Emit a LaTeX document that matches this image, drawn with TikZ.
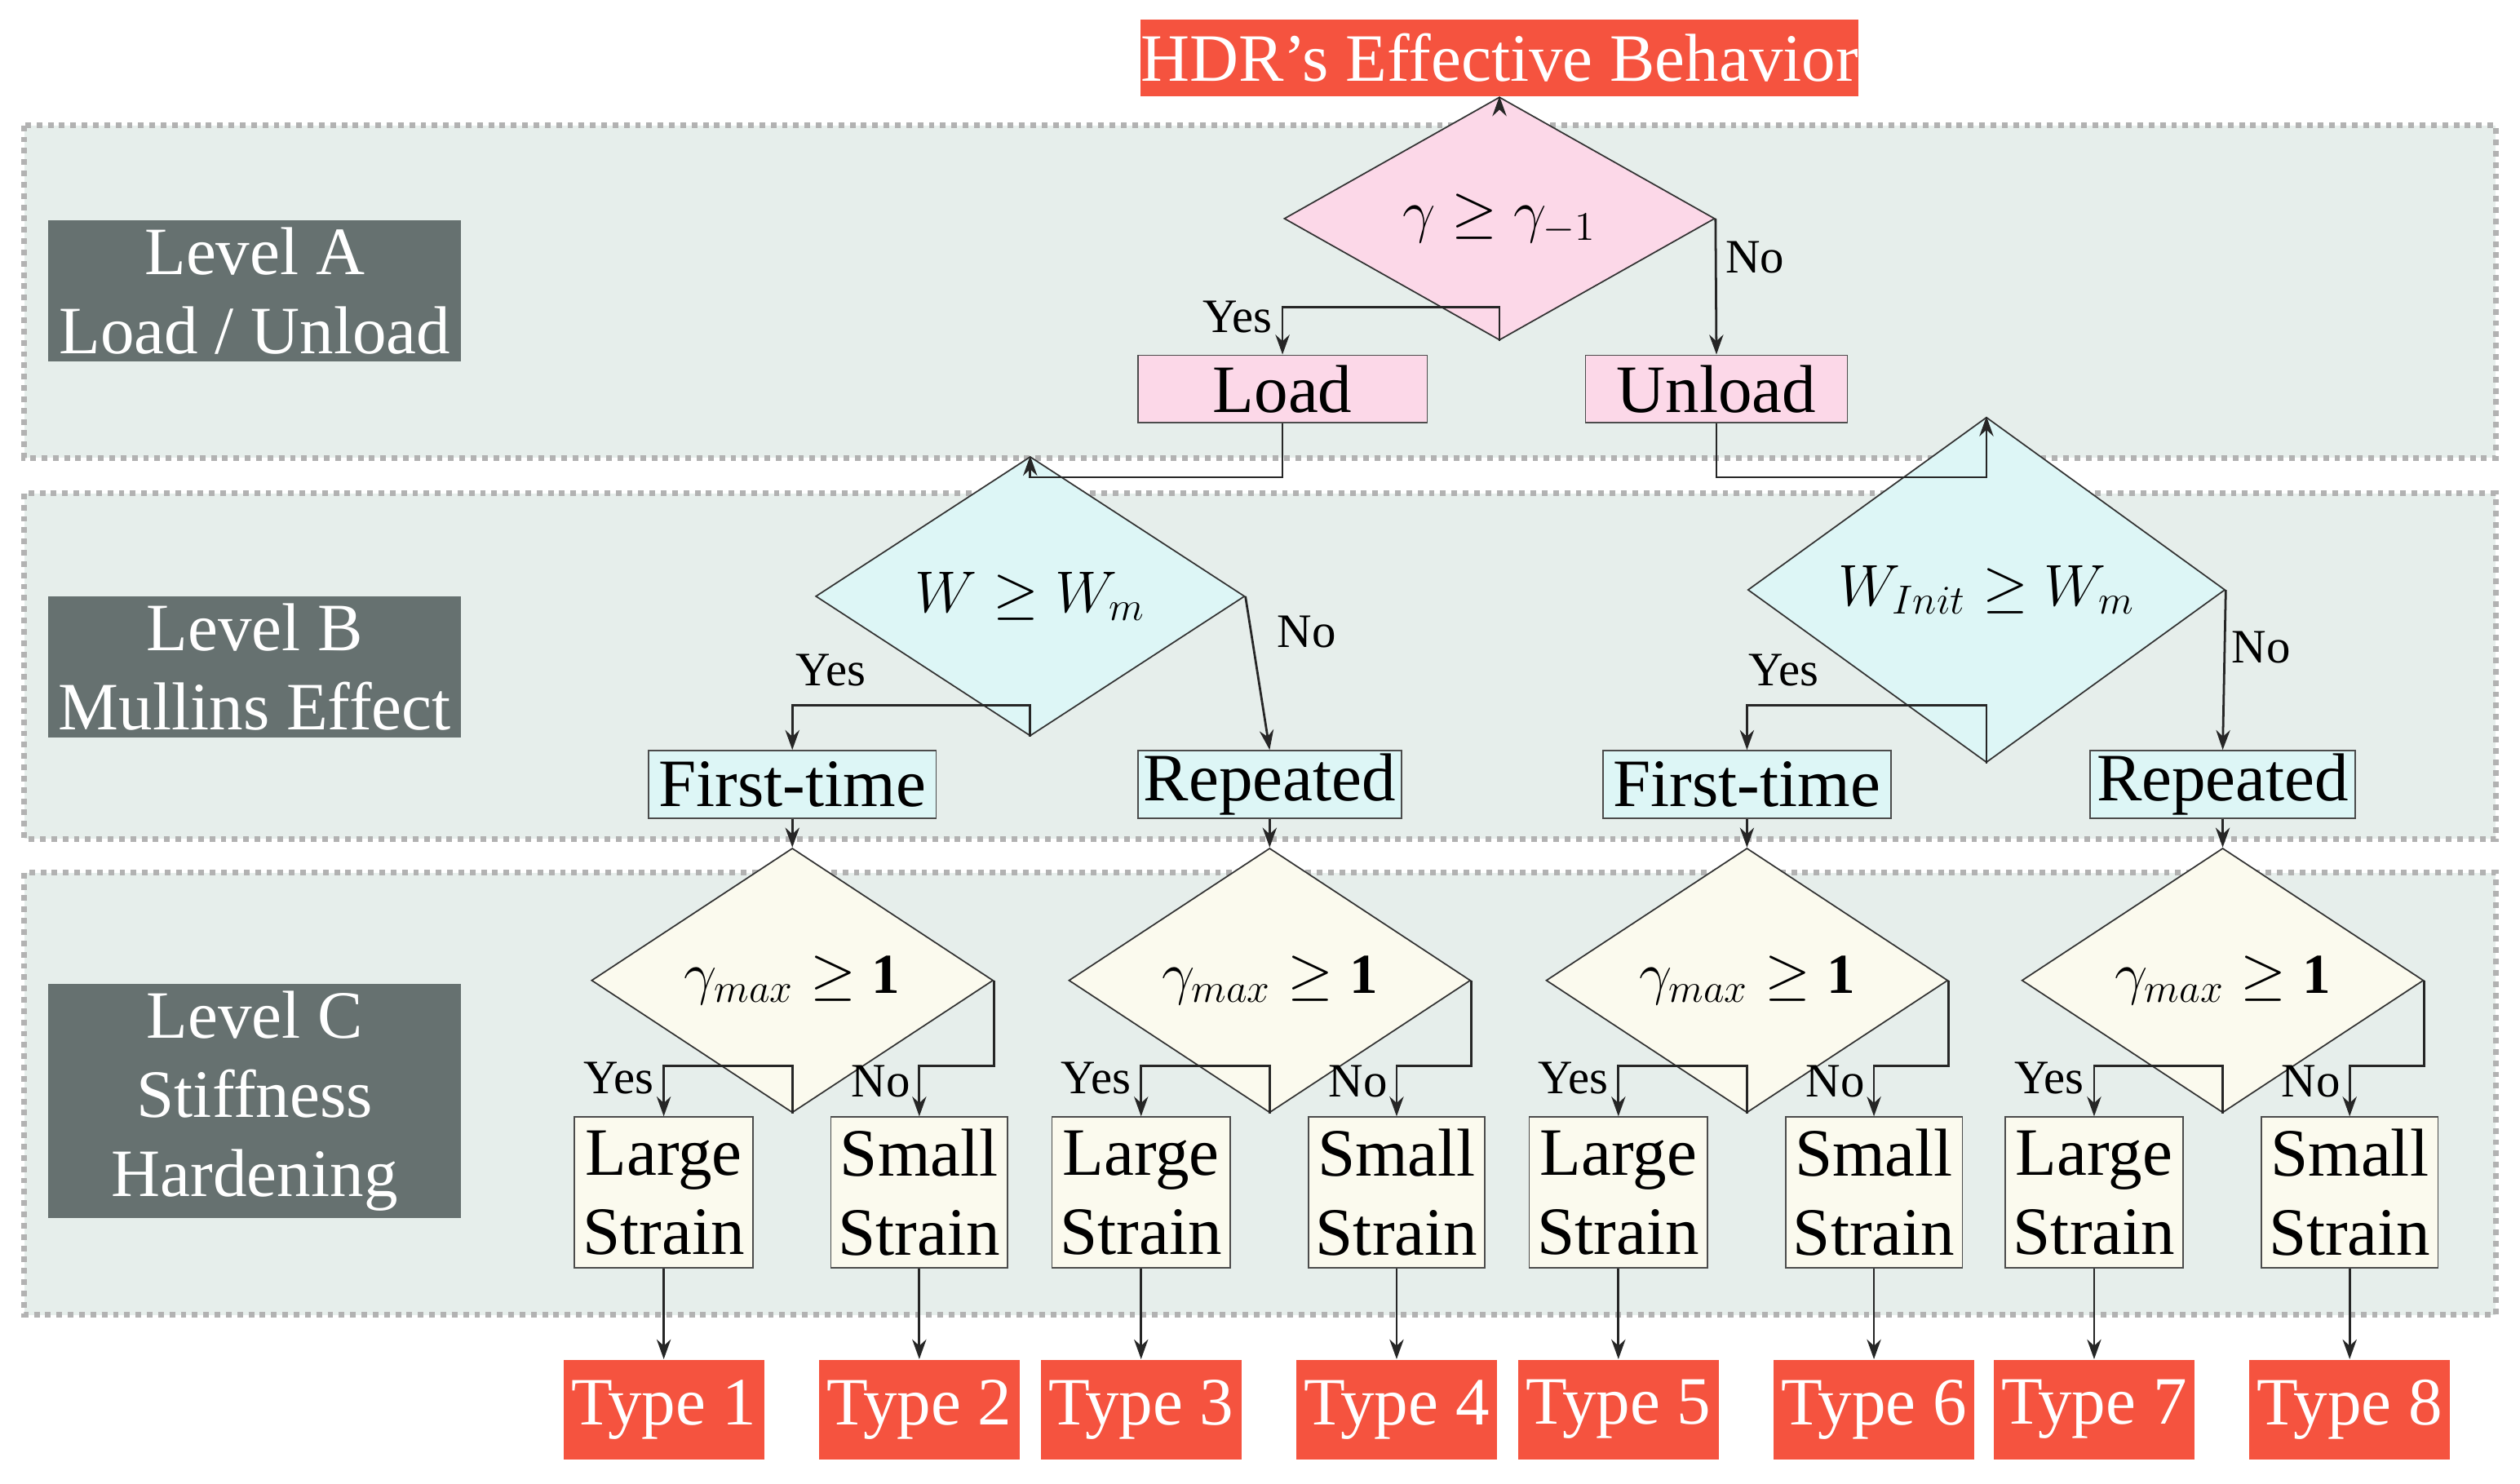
\documentclass[tikz,border=0pt]{standalone}
\usepackage{fontspec}
\setmainfont{Liberation Serif}
\usetikzlibrary{shapes.geometric,arrows.meta}
\definecolor{red1}{HTML}{F5533F}
\definecolor{pinkf}{HTML}{FCD8E8}
\definecolor{cyanf}{HTML}{DDF6F6}
\definecolor{creamf}{HTML}{FBFAEE}
\definecolor{bandf}{HTML}{E6EEEB}
\definecolor{lvlf}{HTML}{667170}
\begin{document}
\begin{tikzpicture}[x=0.02cm,y=-0.02cm,
  band/.style={draw=gray!60,fill=bandf,line width=2pt,dash pattern=on 2pt off 2pt},
  lvl/.style={fill=lvlf,text=white,font=\fontsize{24}{28}\selectfont,align=center,minimum width=5.14cm,inner sep=0},
  red/.style={fill=red1,text=white,font=\fontsize{24}{28}\selectfont,minimum height=1.24cm,minimum width=2.5cm,inner sep=0},
  box/.style={draw=black!70,line width=0.5pt,font=\fontsize{24}{28}\selectfont,minimum height=0.84cm,inner sep=0},
  dia/.style={diamond,draw=black!80,line width=0.5pt,inner sep=0,font=\fontsize{20}{24}\selectfont},
  lab/.style={font=\fontsize{17}{20}\selectfont,inner sep=1pt},
  arr/.style={-{Stealth[length=7pt,width=5pt]},black!85,line width=0.8pt}]
\useasboundingbox (0,0) rectangle (1568,923);
\fill[white] (0,0) rectangle (1568,923);
\draw[band] (15,78) rectangle (1553,285);
\draw[band] (15,307) rectangle (1553,522);
\draw[band] (15,543) rectangle (1553,818);
\node[lvl,minimum height=1.76cm] (la) at (158.5,181) {Level A\\Load / Unload};
\node[lvl,minimum height=1.76cm] (lb) at (158.5,415) {Level B\\Mullins Effect};
\node[lvl,minimum height=2.92cm] (lc) at (158.5,685) {Level C\\Stiffness\\Hardening};
\node[red,minimum width=8.74cm,minimum height=0.96cm] (t) at (933,36) {HDR's Effective Behavior};
\node[dia,fill=pinkf,minimum width=5.36cm,minimum height=1.52cm] (da) at (933,136) {$\gamma\geq\gamma_{-1}$};
\node[box,fill=pinkf,minimum width=3.6cm] (load) at (798,242) {Load};
\node[box,fill=pinkf,minimum width=3.26cm] (unload) at (1068,242) {Unload};
\draw[arr] (t) -- (da.north);
\draw[arr] (da.south) |- (798,191) -- (load.north);
\draw[arr] (da.east) -- (unload.north);
\node[lab] at (770,197) {Yes};
\node[lab] at (1092,160) {No};
\node[dia,fill=cyanf,minimum width=5.34cm,minimum height=1.6cm] (db1) at (641,371) {$W\geq W_m$};
\node[dia,fill=cyanf,minimum width=5.94cm,minimum height=1.82cm] (db2) at (1236,367) {$W_{Init}\geq W_m$};
\draw[arr] (load.south) |- (641,297) -- (db1.north);
\draw[arr] (unload.south) |- (1236,297) -- (db2.north);
\node[box,fill=cyanf,minimum width=3.58cm] (f1) at (493,488) {First-time};
\node[box,fill=cyanf,minimum width=3.28cm] (r1) at (790,488) {Repeated};
\node[box,fill=cyanf,minimum width=3.58cm] (f2) at (1087,488) {First-time};
\node[box,fill=cyanf,minimum width=3.3cm] (r2) at (1383,488) {Repeated};
\draw[arr] (db1.south) |- (493,439) -- (f1.north);
\draw[arr] (db1.east) -- (r1.north);
\draw[arr] (db2.south) |- (1087,439) -- (f2.north);
\draw[arr] (db2.east) -- (r2.north);
\node[lab] at (517,417) {Yes};
\node[lab] at (813,393) {No};
\node[lab] at (1110,417) {Yes};
\node[lab] at (1407,403) {No};
\foreach \c/\p/\n/\a/\b in {493/f1/1/1/2, 790/r1/2/3/4, 1087/f2/3/5/6, 1383/r2/4/7/8}{
  \node[dia,fill=creamf,minimum width=5cm,minimum height=1.52cm] (dc\n) at (\c,610) {$\gamma_{max}\geq\mathbf{1}$};
  \draw[arr] (\p.south) -- (dc\n.north);
  \node[box,fill=creamf,minimum width=2.22cm,minimum height=1.88cm,align=center] (L\n) at (\c-80,742) {Large\\Strain};
  \node[box,fill=creamf,minimum width=2.2cm,minimum height=1.88cm,align=center] (S\n) at (\c+79,742) {Small\\Strain};
  \draw[arr] (dc\n.south) |- (\c-80,663) -- (L\n.north);
  \draw[arr] (dc\n.east) |- (\c+79,663) -- (S\n.north);
  \node[lab] at (\c-108,671) {Yes};
  \node[lab] at (\c+55,673) {No};
  \node[red] (T\a) at (\c-80,877) {Type \a};
  \node[red] (T\b) at (\c+79,877) {Type \b};
  \draw[arr] (L\n.south) -- (T\a.north);
  \draw[arr] (S\n.south) -- (T\b.north);
}
\end{tikzpicture}
\end{document}
